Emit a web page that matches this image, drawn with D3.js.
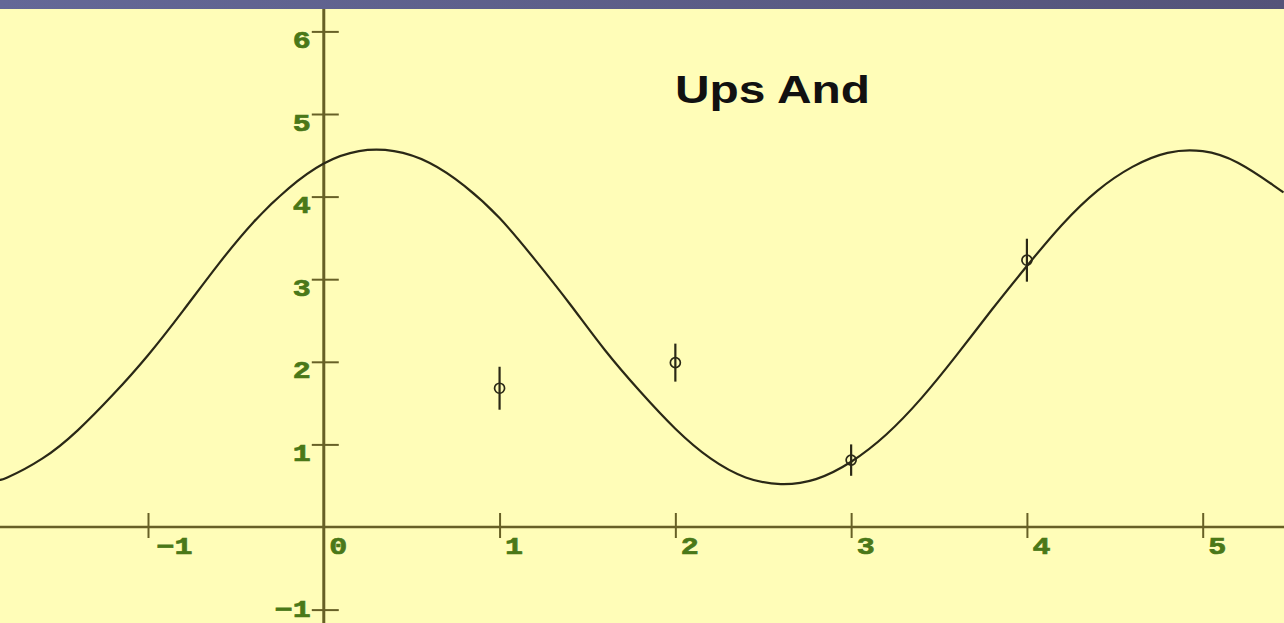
<!DOCTYPE html>
<html>
<head>
<meta charset="utf-8">
<script src="https://cdn.jsdelivr.net/npm/d3@7"></script>
<style>
  html, body { margin: 0; padding: 0; background: #fffdb8; overflow: hidden; }
  svg { display: block; }
</style>
</head>
<body>
<svg id="chart" width="1284" height="623"></svg>
<script>
// Fitted curve samples (phase, magnitude)
const curveX = [-1.85, -1.8, -1.6, -1.4, -1.2, -1.0, -0.8, -0.6, -0.4, -0.2, 0.0, 0.2, 0.4, 0.6, 0.8,
                1.0, 1.2, 1.4, 1.6, 1.8, 2.0, 2.2, 2.4, 2.6, 2.8, 3.0, 3.2, 3.4, 3.6, 3.8, 4.0,
                4.2, 4.4, 4.6, 4.8, 5.0, 5.2, 5.4, 5.46];
const curveY = [0.58, 0.60, 0.83, 1.17, 1.60, 2.08, 2.62, 3.18, 3.69, 4.10, 4.40, 4.55, 4.55, 4.41, 4.13,
                3.74, 3.24, 2.70, 2.14, 1.64, 1.19, 0.83, 0.60, 0.52, 0.58, 0.79, 1.12, 1.56, 2.08, 2.63, 3.16,
                3.66, 4.07, 4.36, 4.53, 4.55, 4.41, 4.14, 4.05];

// Observed points with error bars
const obsX = [1, 2, 3, 4];
const obsY = [1.68, 1.99, 0.81, 3.23];
const obsErr = [0.26, 0.23, 0.19, 0.26];

// Tick values and labels
const xTicks = [-1, 0, 1, 2, 3, 4, 5];
const xTickLabels = ["\u22121", "0", "1", "2", "3", "4", "5"];
const yTicks = [-1, 1, 2, 3, 4, 5, 6];
const yTickLabels = ["\u22121", "1", "2", "3", "4", "5", "6"];

const titleText = "Ups And";

const W = 1284, H = 623;
const svg = d3.select("#chart");

const x = d3.scaleLinear().domain([-1, 5]).range([148, 1202.7]);
const y = d3.scaleLinear().domain([-1, 6]).range([609.6, 31.4]);

const axisColor = "#676026";
const labelColor = "#4a7818";
const inkColor = "#2a2816";
const labelFont = "'Liberation Mono', 'DejaVu Sans Mono', monospace";

// background
svg.append("rect").attr("width", W).attr("height", H).attr("fill", "#fffdb8");

// top band
const defs = svg.append("defs");
const grad = defs.append("linearGradient").attr("id", "band").attr("x1", 0).attr("x2", 1);
grad.append("stop").attr("offset", 0).attr("stop-color", "#646897");
grad.append("stop").attr("offset", 1).attr("stop-color", "#545379");
svg.append("rect").attr("x", 0).attr("y", 0).attr("width", W).attr("height", 9).attr("fill", "url(#band)");

// x axis line across the full width
svg.append("line")
  .attr("x1", 0).attr("x2", W)
  .attr("y1", y(0)).attr("y2", y(0))
  .attr("stroke", axisColor).attr("stroke-width", 2.5);

// y axis line
svg.append("line")
  .attr("x1", x(0)).attr("x2", x(0))
  .attr("y1", 9).attr("y2", H)
  .attr("stroke", axisColor).attr("stroke-width", 3);

function styleLabels(sel, labels) {
  sel.attr("dy", null)
    .attr("font-family", labelFont)
    .attr("font-weight", "bold")
    .attr("font-size", 24)
    .attr("fill", labelColor)
    .attr("stroke", labelColor)
    .attr("stroke-width", 0.7)
    .attr("textLength", (d, i) => labels[i].length * 18)
    .attr("lengthAdjust", "spacingAndGlyphs");
}

// x axis ticks and labels
const xAxis = d3.axisBottom(x).tickValues(xTicks).tickSize(0)
  .tickFormat((d, i) => xTickLabels[i]);
const gx = svg.append("g").attr("transform", `translate(0,${y(0)})`).call(xAxis);
gx.select(".domain").remove();
gx.selectAll(".tick line")
  .attr("y1", -14).attr("y2", 11)
  .attr("stroke", axisColor).attr("stroke-width", (d) => d === 0 ? 0 : 2);
gx.selectAll(".tick text")
  .attr("text-anchor", "start")
  .attr("x", (d) => d === -1 ? 8 : 5)
  .attr("y", 27)
  .call(styleLabels, xTickLabels);

// y axis ticks and labels (the lowest one is kept inside the frame)
const yAxis = d3.axisLeft(y).tickValues(yTicks).tickSize(0)
  .tickFormat((d, i) => yTickLabels[i]);
const gy = svg.append("g").attr("transform", `translate(${x(0)},0)`).call(yAxis);
gy.select(".domain").remove();
gy.selectAll(".tick line")
  .attr("x1", -12).attr("x2", 15)
  .attr("stroke", axisColor).attr("stroke-width", 2);
gy.selectAll(".tick text")
  .attr("text-anchor", "end")
  .attr("x", -13)
  .attr("y", (d) => Math.min(16, H - 7 - y(d)))
  .call(styleLabels, yTickLabels);

// fitted curve
const curveData = curveX.map((d, i) => [d, curveY[i]]);
const line = d3.line()
  .x((d) => x(d[0]))
  .y((d) => y(d[1]))
  .curve(d3.curveNatural);
svg.append("path")
  .datum(curveData)
  .attr("d", line)
  .attr("fill", "none")
  .attr("stroke", inkColor)
  .attr("stroke-width", 2.2);

// observations with error bars
const obs = obsX.map((d, i) => ({ x: d, y: obsY[i], e: obsErr[i] }));
const g = svg.append("g");
g.selectAll("line.err").data(obs).join("line")
  .attr("class", "err")
  .attr("x1", (d) => x(d.x)).attr("x2", (d) => x(d.x))
  .attr("y1", (d) => y(d.y + d.e)).attr("y2", (d) => y(d.y - d.e))
  .attr("stroke", inkColor).attr("stroke-width", 2.2);
g.selectAll("circle").data(obs).join("circle")
  .attr("cx", (d) => x(d.x)).attr("cy", (d) => y(d.y))
  .attr("r", 5)
  .attr("fill", "none")
  .attr("stroke", inkColor).attr("stroke-width", 1.7);

// title
svg.append("text")
  .attr("x", 675).attr("y", 103)
  .attr("font-family", "'Liberation Sans', Arial, sans-serif")
  .attr("font-weight", "bold")
  .attr("font-size", 38)
  .attr("fill", "#111")
  .attr("textLength", 195)
  .attr("lengthAdjust", "spacingAndGlyphs")
  .text(titleText);
</script>
</body>
</html>
